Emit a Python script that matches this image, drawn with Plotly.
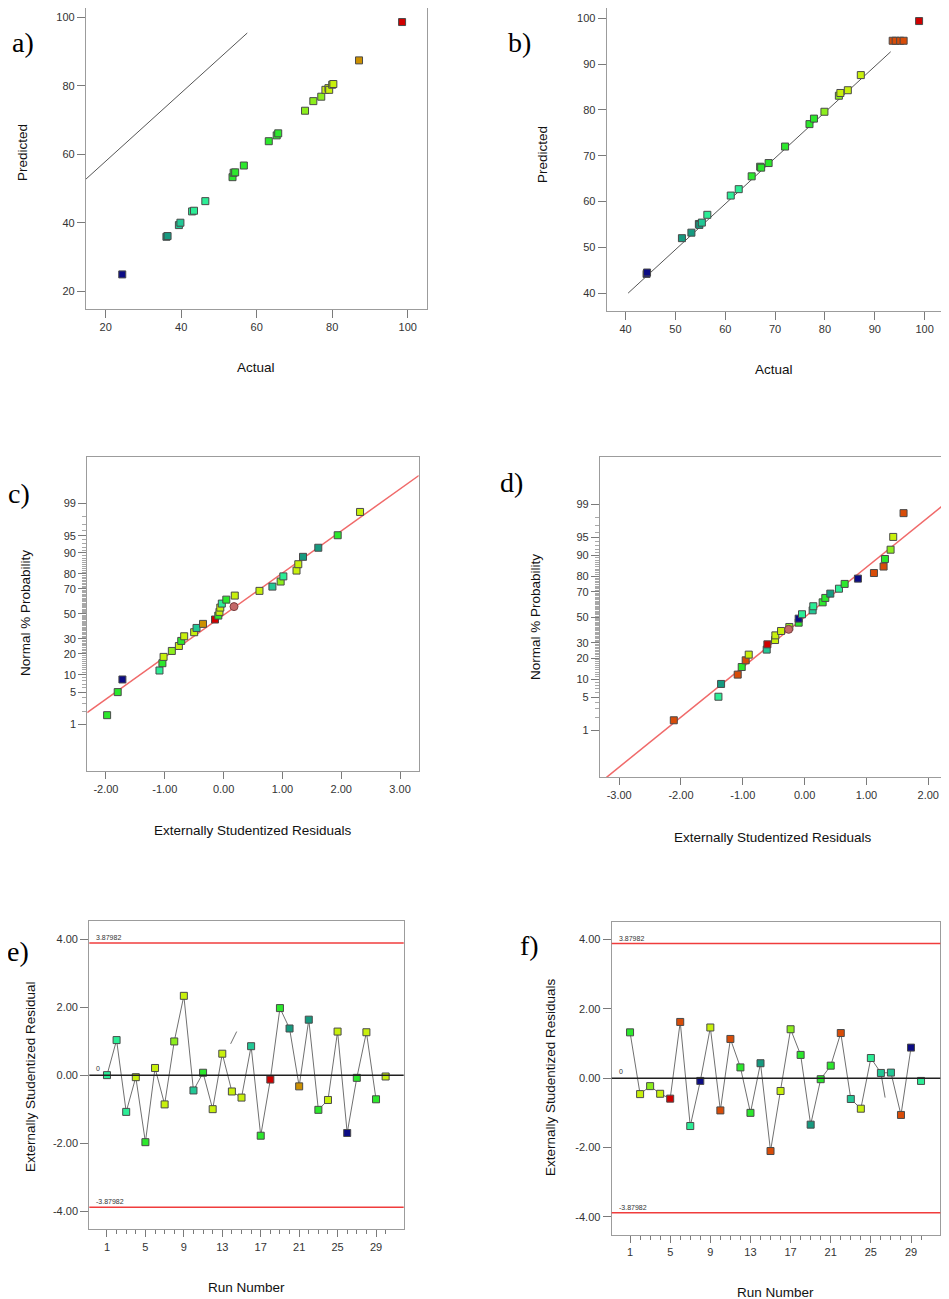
import plotly.graph_objects as go
from statistics import NormalDist

W, H = 949, 1299          # browser window
OFF = 8                   # default page body margin
FW, FH = W - OFF, H - OFF  # figure size
ND = NormalDist()


def zq(p):
    return ND.inv_cdf(p / 100.0)


PAL = {
    "N": "#0c0c84", "T": "#169a80", "C": "#22c896", "S": "#2ced96",
    "G": "#2ce82c", "L": "#8cee1c", "Y": "#c8f00c", "O": "#cc9000",
    "E": "#d84c08", "R": "#d00000",
}

# ---------------- panel a: Predicted vs Actual ----------------
a_actual = [24.4, 36.1, 36.4, 39.4, 39.8, 42.9, 43.4, 46.4, 53.6, 53.9, 54.3, 56.6,
            63.2, 65.3, 65.7, 72.8, 75.0, 77.1, 78.2, 79.0, 79.2, 80.0, 80.3, 87.1, 98.5]
a_pred = [24.9, 35.9, 36.1, 39.3, 40.0, 43.3, 43.5, 46.3, 53.3, 54.6, 54.7, 56.7,
          63.8, 65.5, 66.1, 72.7, 75.5, 76.8, 78.8, 79.3, 78.8, 80.3, 80.5, 87.4, 98.6]
a_col = ["N", "T", "T", "C", "C", "S", "S", "S", "G", "G", "G", "G",
         "G", "G", "G", "L", "L", "L", "Y", "Y", "Y", "Y", "Y", "O", "R"]
a_line_x = [12.3, 57.5]
a_line_y = [50.25, 95.4]

# ---------------- panel b: Predicted vs Actual ----------------
b_actual = [44.2, 44.3, 51.3, 53.2, 54.7, 54.8, 55.3, 56.4, 61.1, 62.7, 65.3, 67.0, 67.2,
            68.7, 72.0, 76.9, 77.8, 79.9, 82.8, 83.1, 84.6, 87.2, 93.6, 94.2, 95.1, 95.8, 98.9]
b_pred = [44.2, 44.5, 52.0, 53.2, 55.1, 54.9, 55.4, 57.1, 61.3, 62.7, 65.5, 67.6, 67.4,
          68.4, 72.0, 76.9, 78.1, 79.6, 83.1, 83.7, 84.3, 87.6, 95.1, 95.1, 95.1, 95.1, 99.4]
b_col = ["N", "N", "T", "T", "C", "T", "C", "S", "S", "S", "G", "G", "G",
         "G", "G", "G", "G", "L", "L", "Y", "Y", "Y", "E", "E", "E", "E", "R"]
b_line_x = [40.5, 93.2]
b_line_y = [40.0, 92.7]

# ---------------- panel c: normal probability ----------------
c_resid = [-1.98, -1.80, -1.72, -1.09, -1.04, -1.02, -0.88, -0.76, -0.72, -0.67, -0.50, -0.46,
           -0.35, -0.146, -0.09, -0.07, -0.056, -0.03, 0.046, 0.19, 0.61, 0.83, 0.97, 1.016,
           1.24, 1.27, 1.35, 1.61, 1.94, 2.32]
c_prob = [1.66, 5.0, 8.4, 11.7, 15.0, 18.3, 21.8, 25.0, 28.5, 31.9, 35.0, 38.4,
          41.7, 45.3, 48.6, 51.7, 55.3, 58.6, 61.8, 65.0, 68.6, 71.7, 75.2, 78.5,
          81.9, 85.2, 88.5, 91.8, 95.1, 98.4]
c_col = ["G", "G", "N", "S", "G", "Y", "L", "Y", "G", "Y", "Y", "C",
         "O", "R", "G", "Y", "Y", "S", "G", "Y", "Y", "C", "L", "S",
         "Y", "Y", "T", "T", "G", "Y"]
c_sel_resid = [0.177]
c_sel_prob = [56.1]
c_line_x = [-2.32, 3.32]
c_line_p = [1.9, 99.82]

# ---------------- panel d: normal probability ----------------
d_resid = [-2.116, -1.394, -1.351, -1.082, -1.017, -0.953, -0.904, -0.613, -0.602, -0.478,
           -0.473, -0.381, -0.247, -0.096, -0.096, -0.042, 0.130, 0.141, 0.292, 0.335,
           0.416, 0.556, 0.648, 0.863, 1.122, 1.278, 1.300, 1.391, 1.434, 1.601]
d_prob = [1.7, 5.1, 8.5, 11.9, 15.3, 18.8, 22.1, 25.3, 28.9, 32.0,
          35.5, 38.9, 42.1, 45.6, 48.9, 52.5, 55.7, 59.0, 62.1, 65.5,
          68.7, 72.2, 75.4, 78.7, 81.9, 85.2, 88.5, 91.8, 95.1, 98.4]
d_col = ["E", "S", "T", "E", "G", "E", "Y", "C", "R", "Y",
         "Y", "Y", "L", "G", "N", "S", "C", "S", "G", "G",
         "T", "S", "G", "N", "E", "E", "G", "L", "Y", "E"]
d_sel_resid = [-0.258]
d_sel_prob = [40.2]
d_line_x = [-3.205, 2.32]
d_line_p = [0.0494, 99.15]

# ---------------- panel e: residuals vs run ----------------
runs = list(range(1, 31))
e_resid = [0.00, 1.03, -1.08, -0.06, -1.97, 0.21, -0.86, 0.99, 2.33, -0.45,
           0.07, -1.00, 0.63, -0.48, -0.66, 0.85, -1.78, -0.13, 1.97, 1.37,
           -0.33, 1.63, -1.02, -0.73, 1.28, -1.70, -0.08, 1.26, -0.71, -0.04]
e_col = ["S", "S", "S", "Y", "G", "Y", "Y", "L", "Y", "C",
         "G", "Y", "Y", "Y", "Y", "C", "G", "R", "G", "T",
         "O", "T", "G", "Y", "Y", "N", "G", "Y", "G", "Y"]
e_stray_x = [13.87, 14.50]
e_stray_y = [0.92, 1.28]

# ---------------- panel f: residuals vs run ----------------
f_resid = [1.32, -0.46, -0.23, -0.45, -0.59, 1.62, -1.38, -0.08, 1.46, -0.93,
           1.13, 0.31, -1.00, 0.43, -2.10, -0.37, 1.41, 0.67, -1.34, -0.03,
           0.36, 1.30, -0.60, -0.88, 0.58, 0.15, 0.16, -1.06, 0.88, -0.08]
f_col = ["G", "Y", "L", "Y", "R", "E", "S", "N", "Y", "E",
         "E", "G", "G", "T", "E", "Y", "L", "G", "T", "G",
         "G", "E", "C", "Y", "S", "C", "C", "E", "N", "S"]
f_stray_x = [26.0, 26.42]
f_stray_y = [0.15, -0.56]

LIMIT = 3.87982
PROB_MAJOR = [1, 5, 10, 20, 30, 50, 70, 80, 90, 95, 99]

# ---------------- layout helpers (page pixel -> paper fraction) ----------------
FONT = "Liberation Sans, Arial, sans-serif"
SERIF = "Liberation Serif, Times New Roman, serif"


def dx(x0, x1):
    return [(x0 - OFF) / FW, (x1 - OFF) / FW]


def dy(y0, y1):
    return [1 - (y1 - OFF) / FH, 1 - (y0 - OFF) / FH]


def base_axis(dom, rng, anchor):
    return dict(domain=dom, range=rng, anchor=anchor, showline=True, mirror=True,
                linecolor="#9c9c9c", linewidth=1.2, ticks="outside", ticklen=8,
                tickcolor="#7a7a7a", tickwidth=1, showgrid=False, zeroline=False,
                tickfont=dict(family=FONT, size=11, color="#333"))


fig = go.Figure()
layout = {}

panels = {
    1: dict(x=(86, 427), y=(8, 309), xr=[14.8, 105.1], yr=[14.8, 102.7]),
    2: dict(x=(606.7, 944), y=(8, 311), xr=[36.2, 103.9], yr=[36.1, 102.25]),
    3: dict(x=(87.3, 418.7), y=(457, 771.3), xr=[-2.317, 3.317], yr=[-3.31, 3.30]),
    4: dict(x=(600, 948), y=(457.3, 777.3), xr=[-3.31, 2.32], yr=[-3.294, 3.294]),
    5: dict(x=(89.3, 403.7), y=(921.3, 1229.3), xr=[-0.84, 31.88], yr=[-4.53, 4.52]),
    6: dict(x=(611.7, 940.3), y=(922, 1235), xr=[-0.83, 31.92], yr=[-4.52, 4.50]),
}

for i, p in panels.items():
    sx = "" if i == 1 else str(i)
    layout["xaxis" + sx] = base_axis(dx(*p["x"]), p["xr"], "y" + sx)
    layout["yaxis" + sx] = base_axis(dy(*p["y"]), p["yr"], "x" + sx)

# ticks
layout["xaxis"].update(tickmode="array", tickvals=[20, 40, 60, 80, 100])
layout["yaxis"].update(tickmode="array", tickvals=[20, 40, 60, 80, 100])
layout["xaxis2"].update(tickmode="array", tickvals=list(range(40, 101, 10)))
layout["yaxis2"].update(tickmode="array", tickvals=list(range(40, 101, 10)))

c_xt = [-2, -1, 0, 1, 2, 3]
d_xt = [-3, -2, -1, 0, 1, 2]
layout["xaxis3"].update(tickmode="array", tickvals=c_xt, ticktext=[f"{v:.2f}" for v in c_xt], ticklen=7)
layout["xaxis4"].update(tickmode="array", tickvals=d_xt, ticktext=[f"{v:.2f}" for v in d_xt], ticklen=7)
minor_p = [p for p in range(2, 99) if p not in PROB_MAJOR]
for ax in ("yaxis3", "yaxis4"):
    layout[ax].update(tickmode="array", tickvals=[zq(p) for p in PROB_MAJOR],
                      ticktext=[str(p) for p in PROB_MAJOR],
                      minor=dict(tickmode="array", tickvals=[zq(p) for p in minor_p],
                                 ticks="outside", ticklen=4, tickcolor="#a8a8a8", tickwidth=1))

run_lab = list(range(1, 30, 4))
res_t = [-4, -2, 0, 2, 4]
for ax in ("xaxis5", "xaxis6"):
    layout[ax].update(tickmode="array", tickvals=run_lab, ticktext=[str(v) for v in run_lab], ticklen=7,
                      minor=dict(tickmode="array", tickvals=runs, ticks="outside", ticklen=4,
                                 tickcolor="#7a7a7a", tickwidth=1))
for ax in ("yaxis5", "yaxis6"):
    layout[ax].update(tickmode="array", tickvals=res_t, ticktext=[f"{v:.2f}" for v in res_t])


def mk(x, y, cols, xa, ya):
    return go.Scatter(x=x, y=y, mode="markers", xaxis=xa, yaxis=ya, showlegend=False,
                      marker=dict(symbol="square", size=7, color=[PAL[c] for c in cols],
                                  line=dict(color="#4a4a4a", width=1)))


def sel(x, y, xa, ya):
    return go.Scatter(x=x, y=y, mode="markers", xaxis=xa, yaxis=ya, showlegend=False,
                      marker=dict(symbol="circle", size=8, color="#c46868",
                                  line=dict(color="#7a4040", width=1)))


def ln(x, y, xa, ya, color, width):
    return go.Scatter(x=x, y=y, mode="lines", xaxis=xa, yaxis=ya, showlegend=False,
                      line=dict(color=color, width=width), hoverinfo="skip")


# a
fig.add_trace(ln(a_line_x, a_line_y, "x", "y", "#555", 1))
fig.add_trace(mk(a_actual, a_pred, a_col, "x", "y"))
# b
fig.add_trace(ln(b_line_x, b_line_y, "x2", "y2", "#555", 1))
fig.add_trace(mk(b_actual, b_pred, b_col, "x2", "y2"))
# c
fig.add_trace(ln(c_line_x, [zq(p) for p in c_line_p], "x3", "y3", "#f06a6a", 1.5))
fig.add_trace(mk(c_resid, [zq(p) for p in c_prob], c_col, "x3", "y3"))
fig.add_trace(sel(c_sel_resid, [zq(p) for p in c_sel_prob], "x3", "y3"))
# d
fig.add_trace(ln(d_line_x, [zq(p) for p in d_line_p], "x4", "y4", "#f06a6a", 1.5))
fig.add_trace(mk(d_resid, [zq(p) for p in d_prob], d_col, "x4", "y4"))
fig.add_trace(sel(d_sel_resid, [zq(p) for p in d_sel_prob], "x4", "y4"))

shapes = []
annos = []
for sx in ("5", "6"):
    shapes.append(dict(type="line", xref=f"x{sx} domain", yref=f"y{sx}", x0=0, x1=1, y0=0, y1=0,
                       line=dict(color="#202020", width=1.5)))
    for lv in (LIMIT, -LIMIT):
        shapes.append(dict(type="line", xref=f"x{sx} domain", yref=f"y{sx}", x0=0, x1=1, y0=lv, y1=lv,
                           line=dict(color="#f03c3c", width=1.5)))
        annos.append(dict(xref=f"x{sx} domain", yref=f"y{sx}", x=0.015, y=lv, text=f"{lv:.5f}",
                          showarrow=False, xanchor="left", yanchor="bottom", yshift=0,
                          font=dict(family=FONT, size=7, color="#333")))
    annos.append(dict(xref=f"x{sx} domain", yref=f"y{sx}", x=0.015, y=0, text="0",
                      showarrow=False, xanchor="left", yanchor="bottom", yshift=1,
                      font=dict(family=FONT, size=7, color="#333")))

# e
fig.add_trace(ln(runs[:29], e_resid[:29], "x5", "y5", "#707070", 1))
fig.add_trace(ln(e_stray_x, e_stray_y, "x5", "y5", "#707070", 1))
fig.add_trace(mk(runs, e_resid, e_col, "x5", "y5"))
# f
fig.add_trace(ln(runs[:29], f_resid[:29], "x6", "y6", "#707070", 1))
fig.add_trace(ln(f_stray_x, f_stray_y, "x6", "y6", "#707070", 1))
fig.add_trace(mk(runs, f_resid, f_col, "x6", "y6"))


def pa(text, x, y, size=13.5, angle=0, family=FONT, color="#111"):
    annos.append(dict(xref="paper", yref="paper", x=(x - OFF) / FW, y=1 - (y - OFF) / FH, text=text,
                      showarrow=False, xanchor="center", yanchor="middle", textangle=angle,
                      font=dict(family=family, size=size, color=color)))


# axis titles (page pixel centres)
pa("Predicted", 22, 153, angle=-90)
pa("Actual", 256, 368)
pa("Predicted", 543, 155, angle=-90)
pa("Actual", 774, 370)
pa("Normal % Probability", 25, 613, angle=-90)
pa("Externally Studentized Residuals", 253, 830)
pa("Normal % Probability", 535, 617, angle=-90)
pa("Externally Studentized Residuals", 773, 837)
pa("Externally Studentized Residual", 30, 1077, angle=-90)
pa("Run Number", 246, 1287)
pa("Externally Studentized Residuals", 550, 1077, angle=-90)
pa("Run Number", 775, 1292)

# panel letters
for t, x, y in (("a)", 23, 43), ("b)", 519, 43), ("c)", 19, 494),
                ("d)", 512, 482), ("e)", 18, 951), ("f)", 529, 946)):
    pa(t, x, y, size=28, family=SERIF, color="#000")

fig.update_layout(**layout)
fig.update_layout(width=FW, height=FH, margin=dict(l=0, r=0, t=0, b=0),
                  paper_bgcolor="white", plot_bgcolor="white",
                  shapes=shapes, annotations=annos, showlegend=False,
                  font=dict(family=FONT))

fig.write_html("out.html")
